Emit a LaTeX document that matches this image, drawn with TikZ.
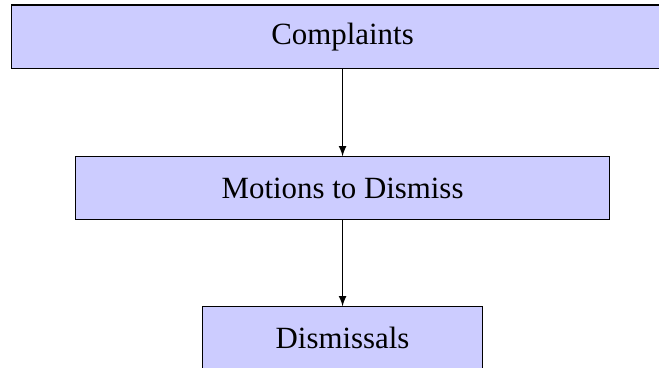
\documentclass[tikz,border=0pt]{standalone}
\usepackage{fontspec}
\setmainfont{Liberation Serif}
\usepackage{tikz}

\begin{document}
\begin{tikzpicture}[
  box/.style={draw, fill=blue!20, inner sep=0pt, font=\fontsize{12}{14}\selectfont}
]
\useasboundingbox (0,0) rectangle (9.003,-5.027);
\node[box, minimum width=9.04cm, minimum height=0.874cm] (compl) at (4.68,-0.505) {Complaints};
\node[box, minimum width=7.30cm, minimum height=0.85cm] (motion) at (4.68,-2.568) {Motions to Dismiss};
\node[box, minimum width=3.83cm, minimum height=0.85cm] (dism) at (4.68,-4.617) {Dismissals};
\draw[-latex] (compl) -- (motion);
\draw[-latex] (motion) -- (dism);
\end{tikzpicture}
\end{document}
